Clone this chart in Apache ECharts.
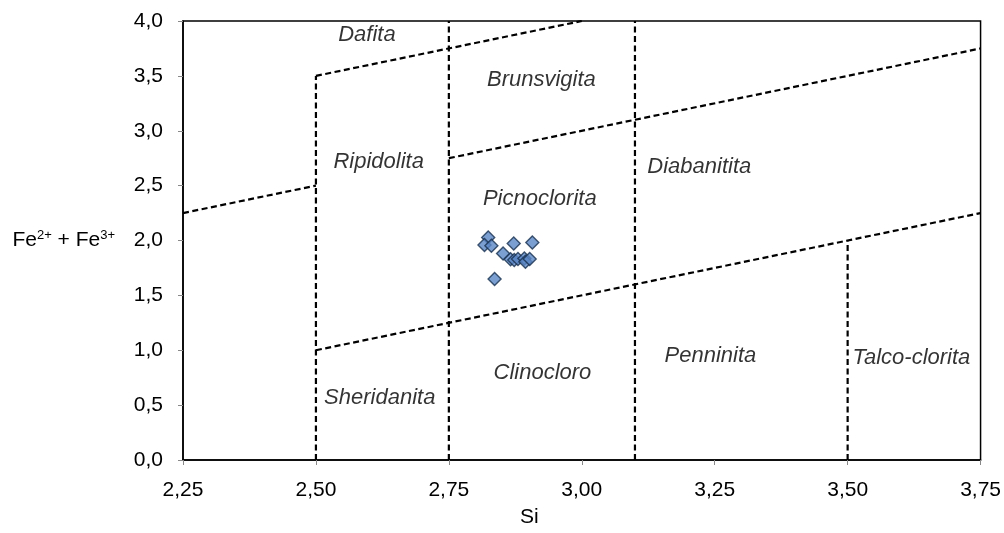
<!DOCTYPE html>
<html>
<head>
<meta charset="utf-8">
<script src="https://cdn.jsdelivr.net/npm/echarts@6/dist/echarts.min.js"></script>
<style>
html,body{margin:0;padding:0;background:#fff;}
#chart{width:1004px;height:533px;}
</style>
</head>
<body>
<div id="chart"></div>
<script>
// Sample points (Si, Fe2+ + Fe3+)
var siValues = [2.824, 2.817, 2.830, 2.872, 2.907, 2.852, 2.866, 2.873, 2.880, 2.892, 2.894, 2.902, 2.836];
var feValues = [2.027, 1.958, 1.952, 1.973, 1.982, 1.882, 1.830, 1.822, 1.831, 1.837, 1.807, 1.831, 1.650];

// Field boundaries: [x1, y1, x2, y2]
var boundaries = [
  [2.50, 0.0, 2.50, 3.5],
  [2.50, 3.5, 3.00, 4.0],
  [2.25, 2.25, 2.50, 2.50],
  [2.75, 0.0, 2.75, 4.0],
  [2.75, 2.75, 3.75, 3.75],
  [3.10, 0.0, 3.10, 4.0],
  [2.50, 1.0, 3.75, 2.25],
  [3.50, 0.0, 3.50, 2.0]
];

// Field names and their positions
var fieldNames = ['Dafita', 'Brunsvigita', 'Ripidolita', 'Diabanitita', 'Picnoclorita', 'Clinocloro', 'Penninita', 'Talco-clorita', 'Sheridanita'];
var fieldX = [2.596, 2.924, 2.618, 3.221, 2.921, 2.926, 3.242, 3.620, 2.620];
var fieldY = [3.873, 3.466, 2.719, 2.670, 2.377, 0.796, 0.950, 0.932, 0.570];

var xTicks = {min: 2.25, max: 3.75, interval: 0.25};
var yTicks = {min: 0, max: 4, interval: 0.5};

var FONT = '"Liberation Sans", Arial, sans-serif';

var series = [];
boundaries.forEach(function (b) {
  series.push({
    type: 'line',
    data: [[b[0], b[1]], [b[2], b[3]]],
    showSymbol: false,
    symbol: 'none',
    silent: true,
    z: 1,
    lineStyle: {color: '#000', width: 2.2, type: [6, 3.5]}
  });
});
series.push({
  type: 'scatter',
  data: fieldNames.map(function (n, i) { return {value: [fieldX[i], fieldY[i]], name: n}; }),
  symbolSize: 0,
  silent: true,
  z: 3,
  label: {
    show: true,
    position: 'inside',
    formatter: '{b}',
    color: '#000',
    textBorderWidth: 0,
    fontSize: 22,
    fontStyle: 'italic',
    fontFamily: FONT
  }
});
series.push({
  type: 'scatter',
  data: siValues.map(function (v, i) { return [v, feValues[i]]; }),
  symbol: 'diamond',
  symbolSize: 13,
  z: 5,
  itemStyle: {color: '#5b87c5', borderColor: '#17304f', borderWidth: 1.4}
});

var chart = echarts.init(document.getElementById('chart'), null, {renderer: 'canvas'});
chart.setOption({
  animation: false,
  backgroundColor: '#fff',
  grid: {left: 183, right: 22.5, top: 21, bottom: 70, show: true, borderColor: '#000', borderWidth: 1.5, backgroundColor: 'transparent'},
  xAxis: {
    type: 'value',
    min: xTicks.min, max: xTicks.max, interval: xTicks.interval,
    name: 'Si',
    nameLocation: 'middle',
    nameGap: 47,
    nameTextStyle: {color: '#000', fontSize: 21, fontFamily: FONT, padding: [0, 105, 0, 0]},
    axisLine: {show: true, lineStyle: {color: '#000', width: 1.5}},
    axisTick: {show: true, length: 5, lineStyle: {color: '#888'}},
    splitLine: {show: false},
    axisLabel: {
      color: '#000', fontSize: 21, fontFamily: FONT, margin: 20,
      formatter: function (v) { return v.toFixed(2).replace('.', ','); }
    }
  },
  yAxis: {
    type: 'value',
    min: yTicks.min, max: yTicks.max, interval: yTicks.interval,
    name: '{a|Fe}{s|2+}{a| + Fe}{s|3+}',
    nameLocation: 'middle',
    nameRotate: 0,
    nameGap: 68,
    nameTextStyle: {
      align: 'right',
      color: '#000', fontFamily: FONT,
      rich: {
        a: {fontSize: 21, fontFamily: FONT, color: '#000', lineHeight: 24},
        s: {fontSize: 13, fontFamily: FONT, color: '#000', lineHeight: 14, verticalAlign: 'top'}
      }
    },
    axisLine: {show: true, lineStyle: {color: '#000', width: 1.5}},
    axisTick: {show: true, length: 5, lineStyle: {color: '#888'}},
    splitLine: {show: false},
    axisLabel: {
      color: '#000', fontSize: 21, fontFamily: FONT, margin: 20,
      formatter: function (v) { return v.toFixed(1).replace('.', ','); }
    }
  },
  series: series
});
</script>
</body>
</html>
